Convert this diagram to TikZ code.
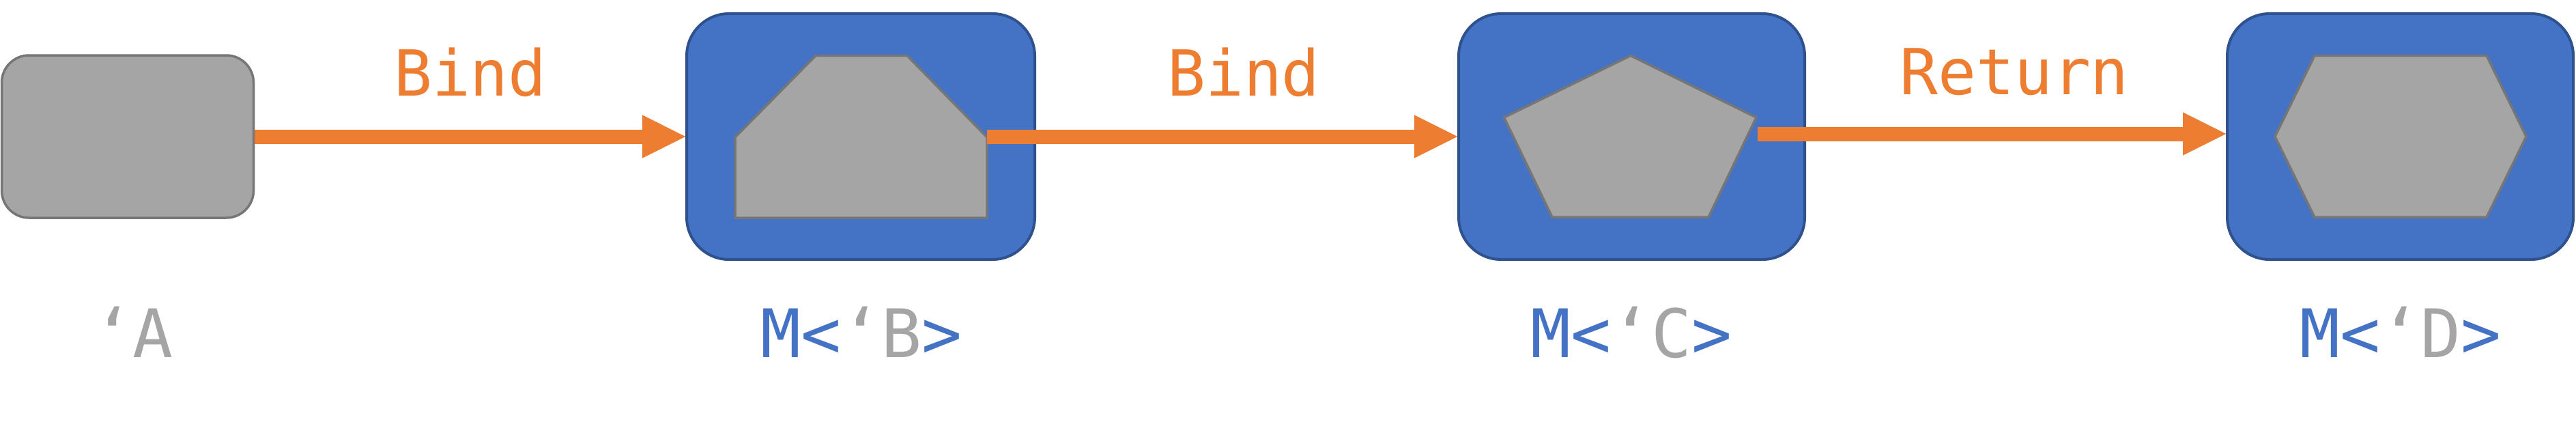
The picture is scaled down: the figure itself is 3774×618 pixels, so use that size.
\documentclass[tikz,border=0pt]{standalone}
\usepackage{fontspec}
\setmainfont{DejaVu Sans Mono}
\newfontfamily\codefont{DejaVu Sans Mono}
\usetikzlibrary{arrows.meta}
\definecolor{obl}{HTML}{4472C4}
\definecolor{obldark}{HTML}{2F528F}
\definecolor{ogray}{HTML}{A5A5A5}
\definecolor{ograyline}{HTML}{767676}
\definecolor{oorange}{HTML}{ED7D31}
\tikzset{
  plainbox/.style={draw=ograyline, fill=ogray, line width=3.5pt, rounded corners=40pt, inner sep=0pt},
  monadbox/.style={draw=obldark, fill=obl, line width=4pt, rounded corners=62pt, minimum width=507pt, minimum height=360pt, inner sep=0pt},
  innershape/.style={draw=ograyline, fill=ogray, line width=3.5pt, line join=miter},
  flow/.style={draw=oorange, line width=21pt, -{Triangle[length=63pt,width=63pt,line width=0.01pt]}},
  oplabel/.style={text=oorange, font=\codefont\fontsize{93}{93}\selectfont, anchor=base, inner sep=0pt},
  typelabel/.style={font=\codefont\fontsize{98}{98}\selectfont, anchor=base, inner sep=0pt}
}
\begin{document}
\begin{tikzpicture}[x=1pt,y=-1pt]
\useasboundingbox (0,0) rectangle (3774,618);
% boxes
\node[plainbox, minimum width=369pt, minimum height=238pt] (A) at (187,200) {};
\node[monadbox, minimum width=510pt] (B) at (1261,200) {};
\node[monadbox] (C) at (2390.5,200) {};
\node[monadbox] (D) at (3516.5,200) {};
% inner shapes
\draw[innershape] (1077,319) -- (1077,201) -- (1195,81.5) -- (1329,81.5) -- (1446,201) -- (1446,319) -- cycle;
\coordinate (Bout) at (1446,200);
\draw[innershape] (2389,81.5) -- (2573,172) -- (2503,318) -- (2274,318) -- (2203.5,172) -- cycle;
\coordinate (Cout) at (2575,196);
\draw[innershape] (3391,81.5) -- (3643,81.5) -- (3701,200) -- (3643,318) -- (3391,318) -- (3333,200) -- cycle;
% connectors
\draw[flow] (A.east) -- (B.west);
\draw[flow] (Bout) -- (Bout -| C.west);
\draw[flow] (Cout) -- (Cout -| D.west);
% operation labels
\node[oplabel] (l1) at (689,140) {Bind};
\node[oplabel] (l2) at (1822,140) {Bind};
\node[oplabel] (l3) at (2951,138) {Return};
% type labels
\node[typelabel, text=ogray] (tA) at (195,523) {‘A};
\node[typelabel] (tB) at (1262,523) {\textcolor{obl}{M<}\textcolor{ogray}{‘B}\textcolor{obl}{>}};
\node[typelabel] (tC) at (2390,523) {\textcolor{obl}{M<}\textcolor{ogray}{‘C}\textcolor{obl}{>}};
\node[typelabel] (tD) at (3517,523) {\textcolor{obl}{M<}\textcolor{ogray}{‘D}\textcolor{obl}{>}};
\end{tikzpicture}
\end{document}
